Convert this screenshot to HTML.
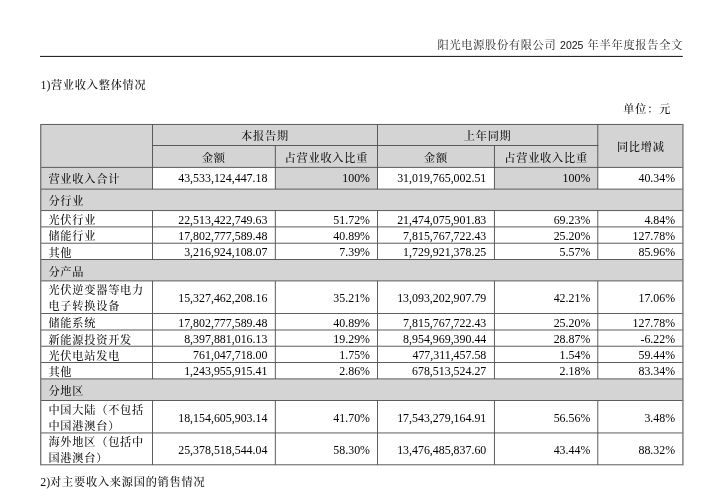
<!DOCTYPE html>
<html lang="zh-CN"><head><meta charset="utf-8"><title>营业收入整体情况</title>
<style>
html,body{margin:0;padding:0;background:#fff;}
body{width:706px;height:498px;position:relative;overflow:hidden;font-family:"Liberation Serif","Noto Serif CJK SC",serif;font-size:11.2px;color:#111;}
svg{position:absolute;left:0;top:0;}
.t{position:absolute;white-space:nowrap;line-height:16px;height:16px;}
.c{letter-spacing:0.76px;font-weight:500;}
.n{letter-spacing:0;font-size:11.9px;color:#000;}
.l{font-size:11.9px;letter-spacing:0;}
.a{font-family:"Liberation Sans",sans-serif;font-size:10.5px;letter-spacing:0;}
</style></head><body>
<svg width="706" height="498" viewBox="0 0 706 498">
<rect x="40" y="55.9" width="642.8" height="1" fill="#111"/>
<rect x="40.70" y="124.40" width="642.00" height="42.95" fill="#d4d4d4"/>
<rect x="40.70" y="167.35" width="111.75" height="21.75" fill="#d4d4d4"/>
<rect x="275.30" y="167.35" width="102.20" height="21.75" fill="#d4d4d4"/>
<rect x="494.40" y="167.35" width="103.40" height="21.75" fill="#d4d4d4"/>
<rect x="40.70" y="189.10" width="642.00" height="21.50" fill="#d4d4d4"/>
<rect x="40.70" y="259.45" width="642.00" height="21.45" fill="#d4d4d4"/>
<rect x="40.70" y="378.90" width="642.00" height="21.55" fill="#d4d4d4"/>
<rect x="40.20" y="123.95" width="643.00" height="0.9" fill="#4c4c4c"/>
<rect x="40.20" y="166.90" width="643.00" height="0.9" fill="#4c4c4c"/>
<rect x="40.20" y="188.65" width="643.00" height="0.9" fill="#4c4c4c"/>
<rect x="40.20" y="210.15" width="643.00" height="0.9" fill="#4c4c4c"/>
<rect x="40.20" y="226.45" width="643.00" height="0.9" fill="#4c4c4c"/>
<rect x="40.20" y="242.75" width="643.00" height="0.9" fill="#4c4c4c"/>
<rect x="40.20" y="259.00" width="643.00" height="0.9" fill="#4c4c4c"/>
<rect x="40.20" y="280.45" width="643.00" height="0.9" fill="#4c4c4c"/>
<rect x="40.20" y="313.05" width="643.00" height="0.9" fill="#4c4c4c"/>
<rect x="40.20" y="329.55" width="643.00" height="0.9" fill="#4c4c4c"/>
<rect x="40.20" y="345.75" width="643.00" height="0.9" fill="#4c4c4c"/>
<rect x="40.20" y="362.00" width="643.00" height="0.9" fill="#4c4c4c"/>
<rect x="40.20" y="378.45" width="643.00" height="0.9" fill="#4c4c4c"/>
<rect x="40.20" y="400.00" width="643.00" height="0.9" fill="#4c4c4c"/>
<rect x="40.20" y="432.50" width="643.00" height="0.9" fill="#4c4c4c"/>
<rect x="40.20" y="464.35" width="643.00" height="0.9" fill="#4c4c4c"/>
<rect x="151.95" y="145.00" width="446.35" height="0.9" fill="#4c4c4c"/>
<rect x="40.00" y="124.00" width="1.4" height="341.20" fill="#7a7a7a"/>
<rect x="682.20" y="124.00" width="1.4" height="341.20" fill="#7a7a7a"/>
<rect x="152.00" y="124.40" width="0.9" height="21.05" fill="#4c4c4c"/>
<rect x="152.00" y="145.45" width="0.9" height="21.90" fill="#4c4c4c"/>
<rect x="152.00" y="167.35" width="0.9" height="21.75" fill="#4c4c4c"/>
<rect x="152.00" y="210.60" width="0.9" height="16.30" fill="#4c4c4c"/>
<rect x="152.00" y="226.90" width="0.9" height="16.30" fill="#4c4c4c"/>
<rect x="152.00" y="243.20" width="0.9" height="16.25" fill="#4c4c4c"/>
<rect x="152.00" y="280.90" width="0.9" height="32.60" fill="#4c4c4c"/>
<rect x="152.00" y="313.50" width="0.9" height="16.50" fill="#4c4c4c"/>
<rect x="152.00" y="330.00" width="0.9" height="16.20" fill="#4c4c4c"/>
<rect x="152.00" y="346.20" width="0.9" height="16.25" fill="#4c4c4c"/>
<rect x="152.00" y="362.45" width="0.9" height="16.45" fill="#4c4c4c"/>
<rect x="152.00" y="400.45" width="0.9" height="32.50" fill="#4c4c4c"/>
<rect x="152.00" y="432.95" width="0.9" height="31.85" fill="#4c4c4c"/>
<rect x="274.85" y="145.45" width="0.9" height="21.90" fill="#4c4c4c"/>
<rect x="274.85" y="167.35" width="0.9" height="21.75" fill="#4c4c4c"/>
<rect x="274.85" y="210.60" width="0.9" height="16.30" fill="#4c4c4c"/>
<rect x="274.85" y="226.90" width="0.9" height="16.30" fill="#4c4c4c"/>
<rect x="274.85" y="243.20" width="0.9" height="16.25" fill="#4c4c4c"/>
<rect x="274.85" y="280.90" width="0.9" height="32.60" fill="#4c4c4c"/>
<rect x="274.85" y="313.50" width="0.9" height="16.50" fill="#4c4c4c"/>
<rect x="274.85" y="330.00" width="0.9" height="16.20" fill="#4c4c4c"/>
<rect x="274.85" y="346.20" width="0.9" height="16.25" fill="#4c4c4c"/>
<rect x="274.85" y="362.45" width="0.9" height="16.45" fill="#4c4c4c"/>
<rect x="274.85" y="400.45" width="0.9" height="32.50" fill="#4c4c4c"/>
<rect x="274.85" y="432.95" width="0.9" height="31.85" fill="#4c4c4c"/>
<rect x="377.05" y="124.40" width="0.9" height="21.05" fill="#4c4c4c"/>
<rect x="377.05" y="145.45" width="0.9" height="21.90" fill="#4c4c4c"/>
<rect x="377.05" y="167.35" width="0.9" height="21.75" fill="#4c4c4c"/>
<rect x="377.05" y="210.60" width="0.9" height="16.30" fill="#4c4c4c"/>
<rect x="377.05" y="226.90" width="0.9" height="16.30" fill="#4c4c4c"/>
<rect x="377.05" y="243.20" width="0.9" height="16.25" fill="#4c4c4c"/>
<rect x="377.05" y="280.90" width="0.9" height="32.60" fill="#4c4c4c"/>
<rect x="377.05" y="313.50" width="0.9" height="16.50" fill="#4c4c4c"/>
<rect x="377.05" y="330.00" width="0.9" height="16.20" fill="#4c4c4c"/>
<rect x="377.05" y="346.20" width="0.9" height="16.25" fill="#4c4c4c"/>
<rect x="377.05" y="362.45" width="0.9" height="16.45" fill="#4c4c4c"/>
<rect x="377.05" y="400.45" width="0.9" height="32.50" fill="#4c4c4c"/>
<rect x="377.05" y="432.95" width="0.9" height="31.85" fill="#4c4c4c"/>
<rect x="493.95" y="145.45" width="0.9" height="21.90" fill="#4c4c4c"/>
<rect x="493.95" y="167.35" width="0.9" height="21.75" fill="#4c4c4c"/>
<rect x="493.95" y="210.60" width="0.9" height="16.30" fill="#4c4c4c"/>
<rect x="493.95" y="226.90" width="0.9" height="16.30" fill="#4c4c4c"/>
<rect x="493.95" y="243.20" width="0.9" height="16.25" fill="#4c4c4c"/>
<rect x="493.95" y="280.90" width="0.9" height="32.60" fill="#4c4c4c"/>
<rect x="493.95" y="313.50" width="0.9" height="16.50" fill="#4c4c4c"/>
<rect x="493.95" y="330.00" width="0.9" height="16.20" fill="#4c4c4c"/>
<rect x="493.95" y="346.20" width="0.9" height="16.25" fill="#4c4c4c"/>
<rect x="493.95" y="362.45" width="0.9" height="16.45" fill="#4c4c4c"/>
<rect x="493.95" y="400.45" width="0.9" height="32.50" fill="#4c4c4c"/>
<rect x="493.95" y="432.95" width="0.9" height="31.85" fill="#4c4c4c"/>
<rect x="597.35" y="124.40" width="0.9" height="21.05" fill="#4c4c4c"/>
<rect x="597.35" y="145.45" width="0.9" height="21.90" fill="#4c4c4c"/>
<rect x="597.35" y="167.35" width="0.9" height="21.75" fill="#4c4c4c"/>
<rect x="597.35" y="210.60" width="0.9" height="16.30" fill="#4c4c4c"/>
<rect x="597.35" y="226.90" width="0.9" height="16.30" fill="#4c4c4c"/>
<rect x="597.35" y="243.20" width="0.9" height="16.25" fill="#4c4c4c"/>
<rect x="597.35" y="280.90" width="0.9" height="32.60" fill="#4c4c4c"/>
<rect x="597.35" y="313.50" width="0.9" height="16.50" fill="#4c4c4c"/>
<rect x="597.35" y="330.00" width="0.9" height="16.20" fill="#4c4c4c"/>
<rect x="597.35" y="346.20" width="0.9" height="16.25" fill="#4c4c4c"/>
<rect x="597.35" y="362.45" width="0.9" height="16.45" fill="#4c4c4c"/>
<rect x="597.35" y="400.45" width="0.9" height="32.50" fill="#4c4c4c"/>
<rect x="597.35" y="432.95" width="0.9" height="31.85" fill="#4c4c4c"/>
</svg>
<div id="h1" class="t c" style="left:437.50px;top:36.50px;letter-spacing:0.7px;font-weight:400;color:#222;">阳光电源股份有限公司</div>
<div id="h2" class="t a" style="left:560.10px;top:36.60px;">2025</div>
<div id="h3" class="t c" style="left:587.60px;top:36.50px;letter-spacing:0.75px;font-weight:400;color:#222;">年半年度报告全文</div>
<div id="title" class="t c" style="left:40.50px;top:76.60px;"><span class="l" style="margin-right:0.5px">1)</span>营业收入整体情况</div>
<div id="unit" class="t c" style="right:34.90px;top:100.80px;">单位：元</div>
<div id="bottom" class="t c" style="left:40.20px;top:473.50px;"><span class="l">2)</span>对主要收入来源国的销售情况</div>
<div id="th1" class="t c" style="left:114.98px;width:300px;text-align:center;top:127.80px;">本报告期</div>
<div id="th2" class="t c" style="left:337.65px;width:300px;text-align:center;top:127.80px;">上年同期</div>
<div id="th3" class="t c" style="left:490.80px;width:300px;text-align:center;top:138.80px;">同比增减</div>
<div id="th4" class="t c" style="left:63.88px;width:300px;text-align:center;top:149.60px;">金额</div>
<div id="th5" class="t c" style="left:176.40px;width:300px;text-align:center;top:149.60px;">占营业收入比重</div>
<div id="th6" class="t c" style="left:285.95px;width:300px;text-align:center;top:149.60px;">金额</div>
<div id="th7" class="t c" style="left:396.10px;width:300px;text-align:center;top:149.60px;">占营业收入比重</div>
<div id="r0l0" class="t c" style="left:48.40px;top:171.10px;">营业收入合计</div>
<div id="r0n0" class="t n" style="right:438.60px;top:170.30px;">43,533,124,447.18</div>
<div id="r0n1" class="t n" style="right:336.00px;top:170.30px;">100%</div>
<div id="r0n2" class="t n" style="right:219.70px;top:170.30px;">31,019,765,002.51</div>
<div id="r0n3" class="t n" style="right:115.70px;top:170.30px;">100%</div>
<div id="r0n4" class="t n" style="right:30.90px;top:170.30px;">40.34%</div>
<div id="r1l0" class="t c" style="left:48.40px;top:192.85px;">分行业</div>
<div id="r2l0" class="t c" style="left:48.40px;top:211.70px;">光伏行业</div>
<div id="r2n0" class="t n" style="right:438.60px;top:211.70px;">22,513,422,749.63</div>
<div id="r2n1" class="t n" style="right:336.00px;top:211.70px;">51.72%</div>
<div id="r2n2" class="t n" style="right:219.70px;top:211.70px;">21,474,075,901.83</div>
<div id="r2n3" class="t n" style="right:115.70px;top:211.70px;">69.23%</div>
<div id="r2n4" class="t n" style="right:30.90px;top:211.70px;">4.84%</div>
<div id="r3l0" class="t c" style="left:48.40px;top:227.80px;">储能行业</div>
<div id="r3n0" class="t n" style="right:438.60px;top:227.80px;">17,802,777,589.48</div>
<div id="r3n1" class="t n" style="right:336.00px;top:227.80px;">40.89%</div>
<div id="r3n2" class="t n" style="right:219.70px;top:227.80px;">7,815,767,722.43</div>
<div id="r3n3" class="t n" style="right:115.70px;top:227.80px;">25.20%</div>
<div id="r3n4" class="t n" style="right:30.90px;top:227.80px;">127.78%</div>
<div id="r4l0" class="t c" style="left:48.40px;top:245.30px;">其他</div>
<div id="r4n0" class="t n" style="right:438.60px;top:244.40px;">3,216,924,108.07</div>
<div id="r4n1" class="t n" style="right:336.00px;top:244.40px;">7.39%</div>
<div id="r4n2" class="t n" style="right:219.70px;top:244.40px;">1,729,921,378.25</div>
<div id="r4n3" class="t n" style="right:115.70px;top:244.40px;">5.57%</div>
<div id="r4n4" class="t n" style="right:30.90px;top:244.40px;">85.96%</div>
<div id="r5l0" class="t c" style="left:48.40px;top:263.80px;">分产品</div>
<div id="r6l0" class="t c" style="left:48.40px;top:281.70px;">光伏逆变器等电力</div>
<div id="r6l1" class="t c" style="left:48.40px;top:297.60px;">电子转换设备</div>
<div id="r6n0" class="t n" style="right:438.60px;top:289.65px;">15,327,462,208.16</div>
<div id="r6n1" class="t n" style="right:336.00px;top:289.65px;">35.21%</div>
<div id="r6n2" class="t n" style="right:219.70px;top:289.65px;">13,093,202,907.79</div>
<div id="r6n3" class="t n" style="right:115.70px;top:289.65px;">42.21%</div>
<div id="r6n4" class="t n" style="right:30.90px;top:289.65px;">17.06%</div>
<div id="r7l0" class="t c" style="left:48.40px;top:314.60px;">储能系统</div>
<div id="r7n0" class="t n" style="right:438.60px;top:314.60px;">17,802,777,589.48</div>
<div id="r7n1" class="t n" style="right:336.00px;top:314.60px;">40.89%</div>
<div id="r7n2" class="t n" style="right:219.70px;top:314.60px;">7,815,767,722.43</div>
<div id="r7n3" class="t n" style="right:115.70px;top:314.60px;">25.20%</div>
<div id="r7n4" class="t n" style="right:30.90px;top:314.60px;">127.78%</div>
<div id="r8l0" class="t c" style="left:48.40px;top:331.50px;">新能源投资开发</div>
<div id="r8n0" class="t n" style="right:438.60px;top:331.00px;">8,397,881,016.13</div>
<div id="r8n1" class="t n" style="right:336.00px;top:331.00px;">19.29%</div>
<div id="r8n2" class="t n" style="right:219.70px;top:331.00px;">8,954,969,390.44</div>
<div id="r8n3" class="t n" style="right:115.70px;top:331.00px;">28.87%</div>
<div id="r8n4" class="t n" style="right:30.90px;top:331.00px;">-6.22%</div>
<div id="r9l0" class="t c" style="left:48.40px;top:348.10px;">光伏电站发电</div>
<div id="r9n0" class="t n" style="right:438.60px;top:347.30px;">761,047,718.00</div>
<div id="r9n1" class="t n" style="right:336.00px;top:347.30px;">1.75%</div>
<div id="r9n2" class="t n" style="right:219.70px;top:347.30px;">477,311,457.58</div>
<div id="r9n3" class="t n" style="right:115.70px;top:347.30px;">1.54%</div>
<div id="r9n4" class="t n" style="right:30.90px;top:347.30px;">59.44%</div>
<div id="r10l0" class="t c" style="left:48.40px;top:364.30px;">其他</div>
<div id="r10n0" class="t n" style="right:438.60px;top:363.40px;">1,243,955,915.41</div>
<div id="r10n1" class="t n" style="right:336.00px;top:363.40px;">2.86%</div>
<div id="r10n2" class="t n" style="right:219.70px;top:363.40px;">678,513,524.27</div>
<div id="r10n3" class="t n" style="right:115.70px;top:363.40px;">2.18%</div>
<div id="r10n4" class="t n" style="right:30.90px;top:363.40px;">83.34%</div>
<div id="r11l0" class="t c" style="left:48.40px;top:382.85px;">分地区</div>
<div id="r12l0" class="t c" style="left:48.40px;top:401.80px;">中国大陆（不包括</div>
<div id="r12l1" class="t c" style="left:48.40px;top:417.70px;">中国港澳台）</div>
<div id="r12n0" class="t n" style="right:438.60px;top:409.75px;">18,154,605,903.14</div>
<div id="r12n1" class="t n" style="right:336.00px;top:409.75px;">41.70%</div>
<div id="r12n2" class="t n" style="right:219.70px;top:409.75px;">17,543,279,164.91</div>
<div id="r12n3" class="t n" style="right:115.70px;top:409.75px;">56.56%</div>
<div id="r12n4" class="t n" style="right:30.90px;top:409.75px;">3.48%</div>
<div id="r13l0" class="t c" style="left:48.40px;top:433.85px;">海外地区（包括中</div>
<div id="r13l1" class="t c" style="left:48.40px;top:449.80px;">国港澳台）</div>
<div id="r13n0" class="t n" style="right:438.60px;top:441.83px;">25,378,518,544.04</div>
<div id="r13n1" class="t n" style="right:336.00px;top:441.83px;">58.30%</div>
<div id="r13n2" class="t n" style="right:219.70px;top:441.83px;">13,476,485,837.60</div>
<div id="r13n3" class="t n" style="right:115.70px;top:441.83px;">43.44%</div>
<div id="r13n4" class="t n" style="right:30.90px;top:441.83px;">88.32%</div>
</body></html>
